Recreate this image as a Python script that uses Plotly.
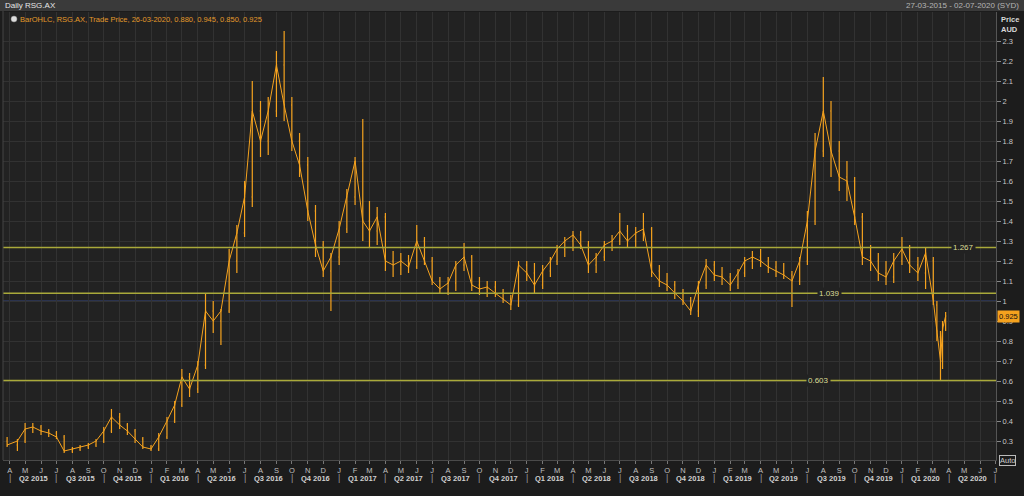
import plotly.graph_objects as go
import pandas as pd

# ---------------- data ----------------
dates = [
    "2015-03-27", "2015-04-16", "2015-05-01", "2015-05-16", "2015-06-01", "2015-06-16",
    "2015-07-01", "2015-07-16", "2015-08-01", "2015-08-16", "2015-09-01", "2015-09-16",
    "2015-10-01", "2015-10-16", "2015-11-01", "2015-11-16", "2015-12-01", "2015-12-16",
    "2016-01-01", "2016-01-16", "2016-02-01", "2016-02-16", "2016-03-01", "2016-03-16",
    "2016-04-01", "2016-04-16", "2016-05-01", "2016-05-16", "2016-06-01", "2016-06-16",
    "2016-07-01", "2016-07-16", "2016-08-01", "2016-08-16", "2016-09-01", "2016-09-16",
    "2016-10-01", "2016-10-16", "2016-11-01", "2016-11-16", "2016-12-01", "2016-12-16",
    "2017-01-01", "2017-01-16", "2017-02-01", "2017-02-16", "2017-03-01", "2017-03-16",
    "2017-04-01", "2017-04-16", "2017-05-01", "2017-05-16", "2017-06-01", "2017-06-16",
    "2017-07-01", "2017-07-16", "2017-08-01", "2017-08-16", "2017-09-01", "2017-09-16",
    "2017-10-01", "2017-10-16", "2017-11-01", "2017-11-16", "2017-12-01", "2017-12-16",
    "2018-01-01", "2018-01-16", "2018-02-01", "2018-02-16", "2018-03-01", "2018-03-16",
    "2018-04-01", "2018-04-16", "2018-05-01", "2018-05-16", "2018-06-01", "2018-06-16",
    "2018-07-01", "2018-07-16", "2018-08-01", "2018-08-16", "2018-09-01", "2018-09-16",
    "2018-10-01", "2018-10-16", "2018-11-01", "2018-11-16", "2018-12-01", "2018-12-16",
    "2019-01-01", "2019-01-16", "2019-02-01", "2019-02-16", "2019-03-01", "2019-03-16",
    "2019-04-01", "2019-04-16", "2019-05-01", "2019-05-16", "2019-06-01", "2019-06-16",
    "2019-07-01", "2019-07-16", "2019-08-01", "2019-08-16", "2019-09-01", "2019-09-16",
    "2019-10-01", "2019-10-16", "2019-11-01", "2019-11-16", "2019-12-01", "2019-12-16",
    "2020-01-01", "2020-01-16", "2020-02-01", "2020-02-16", "2020-03-02", "2020-03-09",
    "2020-03-16", "2020-03-20", "2020-03-26",
]
opens = [
    0.30, 0.28, 0.30, 0.36, 0.37, 0.35, 0.34, 0.32, 0.25, 0.26, 0.27, 0.28,
    0.30, 0.35, 0.42, 0.38, 0.35, 0.31,
    0.27, 0.26, 0.32, 0.40, 0.48, 0.62, 0.56, 0.68, 0.95, 0.90, 0.95, 1.20,
    1.34, 1.52, 1.95, 1.80, 1.95, 2.18, 1.98, 1.80, 1.68, 1.45, 1.28, 1.15,
    1.22, 1.36, 1.52, 1.70, 1.40, 1.35, 1.42, 1.20, 1.18, 1.20, 1.17, 1.30,
    1.20, 1.10, 1.06, 1.09, 1.18, 1.22, 1.08, 1.06, 1.07, 1.04, 1.01, 0.98,
    1.18, 1.14, 1.08, 1.15, 1.20, 1.26, 1.30, 1.33, 1.28, 1.18, 1.22, 1.28,
    1.30, 1.35, 1.30, 1.34, 1.36, 1.15, 1.10, 1.08, 1.04, 1.00, 0.95, 1.08,
    1.18, 1.13, 1.12, 1.08, 1.14, 1.20, 1.22, 1.20, 1.17, 1.15, 1.13, 1.10,
    1.20, 1.40, 1.75, 1.95, 1.75, 1.62, 1.60, 1.42, 1.22, 1.20, 1.14, 1.12,
    1.20, 1.26, 1.18, 1.14, 1.20, 0.98, 0.82, 0.70, 0.880,
]
highs = [
    0.32, 0.31, 0.39, 0.39, 0.38, 0.36, 0.35, 0.33, 0.27, 0.28, 0.29, 0.31,
    0.37, 0.46, 0.44, 0.39, 0.36, 0.32,
    0.28, 0.34, 0.42, 0.50, 0.66, 0.64, 0.70, 1.04, 1.00, 0.96, 1.26, 1.38,
    1.60, 2.10, 2.00, 2.02, 2.25, 2.35, 2.02, 1.84, 1.72, 1.48, 1.30, 1.24,
    1.40, 1.56, 1.72, 1.91, 1.50, 1.47, 1.44, 1.25, 1.24, 1.23, 1.38, 1.32,
    1.22, 1.12, 1.12, 1.20, 1.29, 1.23, 1.12, 1.10, 1.10, 1.06, 1.03, 1.20,
    1.20, 1.19, 1.18, 1.22, 1.28, 1.32, 1.35, 1.35, 1.30, 1.24, 1.30, 1.33,
    1.44, 1.38, 1.37, 1.44, 1.37, 1.18, 1.14, 1.10, 1.06, 1.02, 1.10, 1.21,
    1.20, 1.17, 1.14, 1.16, 1.22, 1.25, 1.26, 1.22, 1.20, 1.19, 1.15, 1.22,
    1.45, 1.84, 2.12, 2.00, 1.80, 1.70, 1.62, 1.44, 1.28, 1.24, 1.20, 1.24,
    1.32, 1.28, 1.22, 1.27, 1.22, 1.00, 0.85, 0.90, 0.945,
]
lows = [
    0.27, 0.25, 0.29, 0.34, 0.33, 0.32, 0.31, 0.24, 0.24, 0.25, 0.26, 0.27,
    0.29, 0.34, 0.36, 0.33, 0.29, 0.26,
    0.25, 0.25, 0.31, 0.39, 0.47, 0.52, 0.54, 0.66, 0.84, 0.78, 0.94, 1.14,
    1.32, 1.47, 1.72, 1.73, 1.92, 1.90, 1.75, 1.62, 1.40, 1.22, 1.12, 0.95,
    1.18, 1.34, 1.48, 1.30, 1.27, 1.28, 1.15, 1.12, 1.13, 1.14, 1.16, 1.18,
    1.08, 1.04, 1.03, 1.05, 1.15, 1.05, 1.03, 1.02, 1.02, 0.99, 0.955, 0.97,
    1.10, 1.04, 1.06, 1.12, 1.18, 1.22, 1.25, 1.26, 1.14, 1.14, 1.20, 1.25,
    1.28, 1.27, 1.27, 1.30, 1.12, 1.07, 1.05, 1.01, 0.98, 0.93, 0.92, 1.06,
    1.10, 1.08, 1.05, 1.06, 1.12, 1.16, 1.17, 1.14, 1.12, 1.11, 0.97, 1.08,
    1.18, 1.38, 1.72, 1.62, 1.55, 1.50, 1.38, 1.18, 1.15, 1.10, 1.08, 1.09,
    1.18, 1.14, 1.10, 1.06, 0.98, 0.80, 0.603, 0.66, 0.850,
]
closes = [
    0.28, 0.30, 0.36, 0.37, 0.35, 0.34, 0.32, 0.25, 0.26, 0.27, 0.28, 0.30,
    0.35, 0.42, 0.38, 0.35, 0.31, 0.27,
    0.26, 0.32, 0.40, 0.48, 0.62, 0.56, 0.68, 0.95, 0.90, 0.95, 1.20, 1.34,
    1.52, 1.95, 1.80, 1.95, 2.18, 1.98, 1.80, 1.68, 1.45, 1.28, 1.15, 1.22,
    1.36, 1.52, 1.70, 1.40, 1.35, 1.42, 1.20, 1.18, 1.20, 1.17, 1.30, 1.20,
    1.10, 1.06, 1.09, 1.18, 1.22, 1.08, 1.06, 1.07, 1.04, 1.01, 0.98, 1.18,
    1.14, 1.08, 1.15, 1.20, 1.26, 1.30, 1.33, 1.28, 1.18, 1.22, 1.28, 1.30,
    1.35, 1.30, 1.34, 1.36, 1.15, 1.10, 1.08, 1.04, 1.00, 0.95, 1.08, 1.18,
    1.13, 1.12, 1.08, 1.14, 1.20, 1.22, 1.20, 1.17, 1.15, 1.13, 1.10, 1.20,
    1.40, 1.75, 1.95, 1.75, 1.62, 1.60, 1.42, 1.22, 1.20, 1.14, 1.12, 1.20,
    1.26, 1.18, 1.14, 1.24, 1.00, 0.85, 0.70, 0.86, 0.925,
]

levels = [1.267, 1.039, 0.603]
level_label_px = [963, 829, 818]          # label centres (pixels)
ytick_vals = [0.3, 0.4, 0.5, 0.6, 0.7, 0.8, 0.9, 1.0, 1.1, 1.2, 1.3,
              1.4, 1.5, 1.6, 1.7, 1.8, 1.9, 2.0, 2.1, 2.2, 2.3]
ytick_text = ["0.3", "0.4", "0.5", "0.6", "0.7", "0.8", "0.9", "1", "1.1", "1.2", "1.3",
              "1.4", "1.5", "1.6", "1.7", "1.8", "1.9", "2", "2.1", "2.2", "2.3"]
month_letters = list("AMJJASONDJFMAMJJASONDJFMAMJJASONDJFMAMJJASONDJFMAMJJASONDJFMAMJJ")
quarter_labels = ["Q2 2015", "Q3 2015", "Q4 2015", "Q1 2016", "Q2 2016", "Q3 2016",
                  "Q4 2016", "Q1 2017", "Q2 2017", "Q3 2017", "Q4 2017", "Q1 2018",
                  "Q2 2018", "Q3 2018", "Q4 2018", "Q1 2019", "Q2 2019", "Q3 2019",
                  "Q4 2019", "Q1 2020", "Q2 2020"]
title_text = "Daily RSG.AX"
range_text = "27-03-2015 - 02-07-2020 (SYD)"
x_range = ["2015-03-19", "2020-07-02"]
y_range = [0.205, 2.445]

# ---------------- styling ----------------
ORANGE = "#f5a21e"
LEVEL = "#a9a93a"
PAPER = "#1c1c1c"
PLOT = "#222222"
GRID = "#323232"
FONT = "Liberation Sans"

W, H = 1024, 496
ML, MR, MT, MB = 3, 28, 12, 36
PW, PH = W - ML - MR, H - MT - MB


def px2x(px):
    return (px - ML) / PW


def py2y(py):
    return (H - MB - py) / PH


month_starts = pd.date_range("2015-04-01", "2020-07-01", freq="MS")
quarter_starts = pd.date_range("2015-04-01", "2020-07-01", freq="QS")

fig = go.Figure()
fig.add_trace(go.Scatter(x=dates, y=closes, mode="lines",
                         line=dict(color=ORANGE, width=1), hoverinfo="skip",
                         showlegend=False))
fig.add_trace(go.Ohlc(x=dates, open=opens, high=highs, low=lows, close=closes,
                      increasing=dict(line=dict(color=ORANGE, width=1.2)),
                      decreasing=dict(line=dict(color=ORANGE, width=1.2)),
                      tickwidth=0.4, showlegend=False, hoverinfo="skip"))

shapes = []
# title strip
shapes.append(dict(type="rect", xref="paper", yref="paper",
                   x0=px2x(0), x1=px2x(W), y0=py2y(0), y1=py2y(11),
                   fillcolor="#3a3a3a", line=dict(width=0), layer="below"))
# blue reference line at 1.0
shapes.append(dict(type="line", xref="paper", yref="y", x0=0, x1=1, y0=1.0, y1=1.0,
                   line=dict(color="#34457a", width=1), layer="below"))
for lv in levels:
    shapes.append(dict(type="line", xref="paper", yref="y", x0=0, x1=1, y0=lv, y1=lv,
                       line=dict(color=LEVEL, width=1.5)))
# left border
shapes.append(dict(type="line", xref="paper", yref="paper", x0=0, x1=0, y0=0, y1=py2y(11),
                   line=dict(color="#444444", width=1)))
# legend icon
shapes.append(dict(type="circle", xref="paper", yref="paper",
                   x0=px2x(11), x1=px2x(17), y0=py2y(22), y1=py2y(16),
                   fillcolor="#dddddd", line=dict(color="#888888", width=0.5)))

ann = []
ann.append(dict(text=title_text, xref="paper", yref="paper", x=px2x(3), y=py2y(6),
                xanchor="left", yanchor="middle", showarrow=False,
                font=dict(family=FONT, size=8, color="#e6e6e6")))
ann.append(dict(text=range_text, xref="paper", yref="paper", x=px2x(1021), y=py2y(6),
                xanchor="right", yanchor="middle", showarrow=False,
                font=dict(family=FONT, size=8, color="#b4b4b4")))
legend_text = "BarOHLC, RSG.AX, Trade Price, %s, %.3f, %.3f, %.3f, %.3f" % (
    pd.Timestamp(dates[-1]).strftime("%d-%m-%Y"), opens[-1], highs[-1], lows[-1], closes[-1])
ann.append(dict(text=legend_text, xref="paper", yref="paper", x=px2x(18), y=py2y(19),
                xanchor="left", yanchor="middle", showarrow=False,
                font=dict(family=FONT, size=7.5, color="#e39a2a")))
ann.append(dict(text="<b>Price</b><br><b>AUD</b>", xref="paper", yref="paper",
                x=px2x(999), y=py2y(13), xanchor="left", yanchor="top", showarrow=False,
                align="left", font=dict(family=FONT, size=7.5, color="#d8d8d8")))
for lv, lpx in zip(levels, level_label_px):
    ann.append(dict(text="%.3f" % lv, xref="paper", yref="y", x=px2x(lpx), y=lv,
                    xanchor="center", yanchor="middle", showarrow=False,
                    bgcolor=PLOT, borderpad=1,
                    font=dict(family=FONT, size=8, color="#dcdc96")))
ann.append(dict(text="%.3f" % closes[-1], xref="paper", yref="y", x=px2x(997), y=closes[-1],
                xanchor="left", yanchor="middle", showarrow=False, bgcolor=ORANGE,
                borderpad=1, font=dict(family=FONT, size=7.5, color="#111111")))
ann.append(dict(text="Auto", xref="paper", yref="paper", x=px2x(999), y=py2y(460),
                xanchor="left", yanchor="middle", showarrow=False, bgcolor=PAPER,
                bordercolor="#bbbbbb", borderwidth=1, borderpad=0,
                font=dict(family=FONT, size=7.5, color="#cccccc")))
for i, lab in enumerate(quarter_labels):
    s, e = quarter_starts[i], quarter_starts[i + 1]
    mid = s + (e - s) / 2
    ann.append(dict(text="<b>%s</b>" % lab, xref="x", yref="paper", x=mid, y=py2y(478),
                    xanchor="center", yanchor="middle", showarrow=False,
                    font=dict(family=FONT, size=7.5, color="#d0d0d0")))
for qs in quarter_starts:
    ann.append(dict(text="|", xref="x", yref="paper", x=qs, y=py2y(478),
                    xanchor="center", yanchor="middle", showarrow=False,
                    font=dict(family=FONT, size=9, color="#9a9a9a")))

fig.update_layout(
    width=W, height=H, margin=dict(l=ML, r=MR, t=MT, b=MB),
    paper_bgcolor=PAPER, plot_bgcolor=PLOT, showlegend=False,
    shapes=shapes, annotations=ann,
    xaxis=dict(type="date", range=x_range, rangeslider=dict(visible=False),
               tickvals=list(month_starts), ticktext=month_letters,
               ticks="outside", ticklen=3, tickcolor="#777777",
               tickfont=dict(family=FONT, size=7.5, color="#c0c0c0"),
               showgrid=True, gridcolor=GRID, gridwidth=1, zeroline=False,
               showline=True, linecolor="#4a4a4a", linewidth=1),
    yaxis=dict(side="right", range=y_range, tickvals=ytick_vals, ticktext=ytick_text,
               ticks="outside", ticklen=4, tickcolor="#888888",
               tickfont=dict(family=FONT, size=7.5, color="#c8c8c8"),
               showgrid=True, gridcolor=GRID, gridwidth=1, zeroline=False,
               showline=True, linecolor="#555555", linewidth=1),
)

fig.write_html(
    "out.html",
    config={"displayModeBar": False},
    post_script="document.body.style.margin='0';document.body.style.padding='0';"
                "document.body.style.overflow='hidden';"
                "document.body.style.background='%s';" % PAPER,
)
